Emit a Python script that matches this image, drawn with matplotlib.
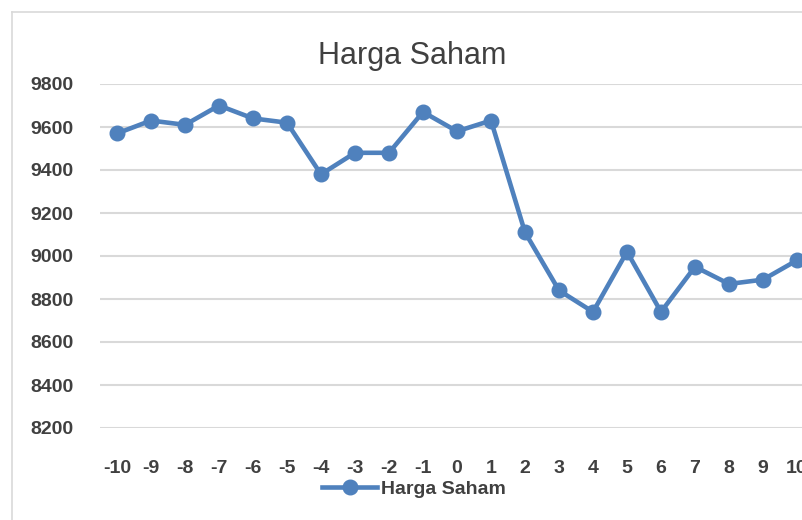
import matplotlib.pyplot as plt

# data
hari = list(range(-10, 11))
harga = [9570, 9630, 9610, 9700, 9640, 9620, 9380, 9480, 9480, 9670, 9580,
         9630, 9110, 8840, 8740, 9020, 8740, 8950, 8870, 8890, 8980]
y_ticks = [8200, 8400, 8600, 8800, 9000, 9200, 9400, 9600, 9800]

plt.rcParams['font.family'] = ['Liberation Sans', 'DejaVu Sans']
plt.rcParams['axes.unicode_minus'] = False

blue = '#4F81BD'
grey_txt = '#404040'

fig = plt.figure(figsize=(8.02, 5.2), dpi=100)
ax = fig.add_axes([100/802, 1 - 428/520, 714/802, 344/520])

ax.plot(hari, harga, color=blue, linewidth=3.3, marker='o', markersize=10.5,
        label='Harga Saham')

ax.set_xlim(-10.5, 10.5)
ax.set_ylim(8200, 9800)
ax.set_yticks(y_ticks)
ax.set_xticks(hari)
ax.grid(axis='y', color='#D9D9D9', linewidth=1.5)
ax.set_axisbelow(True)
for s in ax.spines.values():
    s.set_visible(False)
ax.tick_params(length=0)
ax.tick_params(axis='y', pad=19, labelsize=14, labelcolor=grey_txt)
ax.tick_params(axis='x', pad=23, labelsize=14, labelcolor=grey_txt)
for t in ax.get_xticklabels() + ax.get_yticklabels():
    t.set_fontweight('bold')

fig.text(412/802, 1 - 56/520, 'Harga Saham', ha='center', va='center',
         fontsize=22, color=grey_txt)

leg = fig.legend(loc='center', bbox_to_anchor=(414/802, 1 - 489/520), frameon=False,
                 handlelength=2.8, handletextpad=0.2, prop={'size': 14, 'weight': 'bold'})
for t in leg.get_texts():
    t.set_color(grey_txt)

# chart border (top/left edges visible)
fig.add_artist(plt.Line2D([12/802, 12/802], [0, 1 - 12/520], color='#D9D9D9', linewidth=1.2))
fig.add_artist(plt.Line2D([12/802, 1], [1 - 12/520, 1 - 12/520], color='#D9D9D9', linewidth=1.2))

fig.savefig('out.png', dpi=100)
